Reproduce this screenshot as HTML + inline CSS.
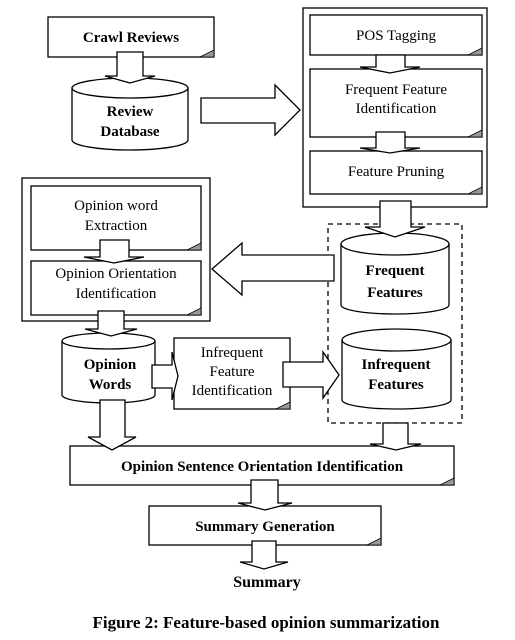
<!DOCTYPE html>
<html><head><meta charset="utf-8"><style>
html,body{margin:0;padding:0;background:#fff;}
svg{display:block;}
text{font-family:"Liberation Serif",serif;fill:#000;text-anchor:middle;}
.b{font-weight:bold;}
</style></head><body>
<svg width="515" height="640" viewBox="0 0 515 640" xmlns="http://www.w3.org/2000/svg" stroke="#000" stroke-width="1.3" fill="#fff">
<!-- Crawl Reviews -->
<rect x="48" y="17" width="166" height="40"/>
<polygon points="214,50 214,57 200,57" fill="#999" stroke-width="0.8"/>
<text x="131" y="42" font-size="15" class="b" stroke="none">Crawl Reviews</text>
<!-- Review Database cylinder -->
<path d="M72,88 A58,10 0 0 1 188,88 V140 A58,10 0 0 1 72,140 Z"/>
<path d="M72,88 A58,10 0 0 0 188,88" fill="none"/>
<text x="130" y="116" font-size="15" class="b" stroke="none">Review</text>
<text x="130" y="136" font-size="15" class="b" stroke="none">Database</text>
<!-- Right outer box -->
<rect x="303" y="8" width="184" height="199"/>
<rect x="310" y="15" width="172" height="40"/>
<polygon points="482,48 482,55 468,55" fill="#999" stroke-width="0.8"/>
<text x="396" y="40" font-size="15" stroke="none">POS Tagging</text>
<rect x="310" y="69" width="172" height="68"/>
<polygon points="482,130 482,137 468,137" fill="#999" stroke-width="0.8"/>
<text x="396" y="94" font-size="15" stroke="none">Frequent Feature</text>
<text x="396" y="113" font-size="15" stroke="none">Identification</text>
<rect x="310" y="151" width="172" height="43"/>
<polygon points="482,187 482,194 468,194" fill="#999" stroke-width="0.8"/>
<text x="396" y="176" font-size="15" stroke="none">Feature Pruning</text>
<!-- Dashed box -->
<rect x="328" y="224" width="134" height="199" fill="none" stroke-dasharray="5,4"/>
<!-- Frequent Features cylinder -->
<path d="M341,244 A54,11 0 0 1 449,244 V305 A54,9 0 0 1 341,305 Z"/>
<path d="M341,244 A54,11 0 0 0 449,244" fill="none"/>
<text x="395" y="275" font-size="15" class="b" stroke="none">Frequent</text>
<text x="395" y="297" font-size="15" class="b" stroke="none">Features</text>
<!-- Left outer box -->
<rect x="22" y="178" width="188" height="143"/>
<rect x="31" y="186" width="170" height="64"/>
<polygon points="201,243 201,250 187,250" fill="#999" stroke-width="0.8"/>
<text x="116" y="210" font-size="15" stroke="none">Opinion word</text>
<text x="116" y="230" font-size="15" stroke="none">Extraction</text>
<rect x="31" y="261" width="170" height="54"/>
<polygon points="201,308 201,315 187,315" fill="#999" stroke-width="0.8"/>
<text x="116" y="278" font-size="15" stroke="none">Opinion Orientation</text>
<text x="116" y="298" font-size="15" stroke="none">Identification</text>
<!-- Opinion Words cylinder -->
<path d="M62,341 A46.5,8 0 0 1 155,341 V395 A46.5,8 0 0 1 62,395 Z"/>
<path d="M62,341 A46.5,8 0 0 0 155,341" fill="none"/>
<text x="110" y="369" font-size="15" class="b" stroke="none">Opinion</text>
<text x="110" y="389" font-size="15" class="b" stroke="none">Words</text>
<!-- Infrequent box -->
<rect x="174" y="338" width="116" height="71"/>
<polygon points="290,402 290,409 276,409" fill="#999" stroke-width="0.8"/>
<text x="232" y="357" font-size="15" stroke="none">Infrequent</text>
<text x="232" y="376" font-size="15" stroke="none">Feature</text>
<text x="232" y="395" font-size="15" stroke="none">Identification</text>
<!-- Infrequent Features cylinder -->
<path d="M342,340 A54.5,11 0 0 1 451,340 V400 A54.5,9 0 0 1 342,400 Z"/>
<path d="M342,340 A54.5,11 0 0 0 451,340" fill="none"/>
<text x="396" y="369" font-size="15" class="b" stroke="none">Infrequent</text>
<text x="396" y="389" font-size="15" class="b" stroke="none">Features</text>
<!-- OSOI box -->
<rect x="70" y="446" width="384" height="39"/>
<polygon points="454,478 454,485 440,485" fill="#999" stroke-width="0.8"/>
<text x="262" y="471" font-size="15" class="b" stroke="none">Opinion Sentence Orientation Identification</text>
<!-- Summary Generation -->
<rect x="149" y="506" width="232" height="39"/>
<polygon points="381,538 381,545 367,545" fill="#999" stroke-width="0.8"/>
<text x="265" y="531" font-size="15" class="b" stroke="none">Summary Generation</text>
<text x="267" y="587" font-size="16" class="b" stroke="none">Summary</text>
<text x="266" y="628" font-size="17" class="b" stroke="none">Figure 2: Feature-based opinion summarization</text>

<!-- ARROWS (drawn on top) -->
<polygon points="117,52 143,52 143,76 155,76 130,83 105,76 117,76"/>
<polygon points="201,98 275,98 275,85 300,110 275,135 275,123 201,123"/>
<polygon points="376,55 405,55 405,67 420,67 390,73 360,67 376,67"/>
<polygon points="376,132 405,132 405,148 420,148 390,153 360,148 376,148"/>
<polygon points="380,201 411,201 411,227 425,227 395,237 365,227 380,227"/>
<polygon points="334,255 242,255 242,243 212,269 242,295 242,281 334,281"/>
<polygon points="100,240 129,240 129,257 144,257 114,263 84,257 100,257"/>
<polygon points="98,311 124,311 124,329 137,329 111,336 85,329 98,329"/>
<polygon points="152,365 172,365 172,352 178,376 172,400 172,388 152,388"/>
<polygon points="283,362 323,362 323,352 339,375 323,398 323,387 283,387"/>
<polygon points="100,400 125,400 125,437 136,437 112,450 88,437 100,437"/>
<polygon points="383,423 408,423 408,444 421,444 396,450 370,444 383,444"/>
<polygon points="251,480 278,480 278,503 292,503 265,510 238,503 251,503"/>
<polygon points="252,541 276,541 276,562 288,562 264,569 240,562 252,562"/>
</svg>
</body></html>
